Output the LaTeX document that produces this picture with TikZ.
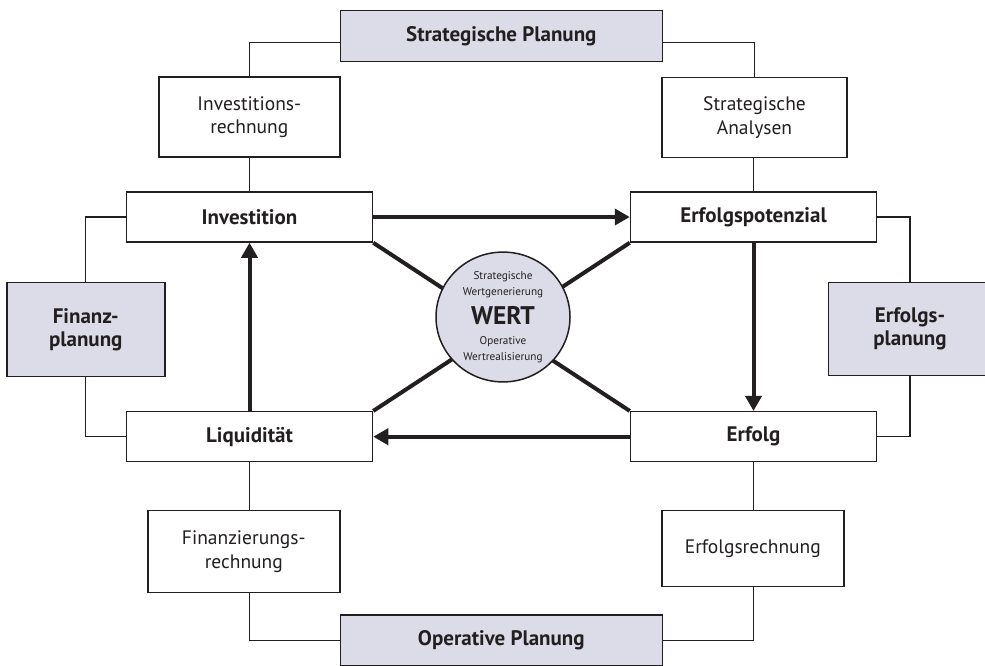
\documentclass[tikz,border=0pt]{standalone}
\usepackage{fontspec}
\setmainfont{PT Sans}
\usetikzlibrary{arrows.meta,shapes.geometric}
\definecolor{planfill}{RGB}{220,220,232}
\definecolor{ink}{RGB}{35,31,32}

\begin{document}
\begin{tikzpicture}[x=1pt, y=-1pt,
  every node/.style={draw=ink, line width=1.5pt, text=ink, align=center, inner sep=0pt,
    font=\fontsize{19.5}{23.5}\selectfont},
  plan/.style={fill=planfill, font=\fontsize{21}{22.5}\selectfont\bfseries},
  cell/.style={minimum width=246pt, minimum height=50pt, font=\fontsize{21}{23}\selectfont\bfseries},
  link/.style={ink, line width=1.3pt},
  flow/.style={ink, line width=4pt, -{Triangle[length=15pt,width=16pt]}}]

  \fill[white] (0,0) rectangle (985,665);
  \useasboundingbox (0,0) rectangle (985,665);

  % planning frame
  \node[plan, minimum width=322pt, minimum height=51pt] (strat) at (501.3,36.2) {Strategische Planung};
  \node[plan, minimum width=322pt, minimum height=51pt] (oper) at (501.3,640.5) {Operative Planung};
  \node[plan, minimum width=158pt, minimum height=94pt] (fin) at (85.8,329.7) {Finanz-\\planung};
  \node[plan, minimum width=163pt, minimum height=93pt] (efp) at (910,329) {Erfolgs-\\planung};

  % calculations
  \node[minimum width=181pt, minimum height=80pt] (invr) at (249.3,117) {Investitions-\\rechnung};
  \node[minimum width=185pt, minimum height=80pt] (sana) at (754.5,117.5) {Strategische\\Analysen};
  \node[minimum width=192pt, minimum height=82pt] (finr) at (243.8,551.5) {Finanzierungs-\\rechnung};
  \node[minimum width=182pt, minimum height=76pt] (erfr) at (752.8,548.5) {Erfolgsrechnung};

  % cycle
  \node[cell] (inv) at (249.5,217) {Investition};
  \node[cell] (pot) at (753.5,217) {Erfolgspotenzial};
  \node[cell] (liq) at (249.5,436.7) {Liquidität};
  \node[cell] (erf) at (753.5,436.7) {Erfolg};

  \draw[link] (invr.north) |- ([yshift=-6pt]strat.west);
  \draw[link] (sana.north) |- ([yshift=-6pt]strat.east);
  \draw[link] (inv.north |- invr.south) -- (inv.north);
  \draw[link] (pot.north |- sana.south) -- (pot.north);
  \draw[link] (inv.west) -| (fin.north);
  \draw[link] (fin.south) |- (liq.west);
  \draw[link] (pot.east) -| (efp.north);
  \draw[link] (efp.south) |- (erf.east);
  \draw[link] (liq.south) -- (liq.south |- finr.north);
  \draw[link] (liq.south |- finr.south) |- (oper.west);
  \draw[link] (erf.south) -- (erf.south |- erfr.north);
  \draw[link] (erf.south |- erfr.south) |- (oper.east);

  \draw[flow] (inv.east) -- (pot.west);
  \draw[flow] (pot.south) -- (erf.north);
  \draw[flow] (erf.west) -- (liq.east);
  \draw[flow] (liq.north) -- (inv.south);

  \draw[ink, line width=4pt] (inv.south east) -- (erf.north west);
  \draw[ink, line width=4pt] (liq.north east) -- (pot.south west);

  \node[ellipse, fill=planfill, minimum width=134pt, minimum height=120pt,
    font=\fontsize{11.2}{16}\selectfont] (wert) at (503,317)
    {Strategische\\Wertgenerierung\\[8pt]{\fontsize{25.5}{25}\selectfont\bfseries WERT}\\[4pt]Operative\\Wertrealisierung};
\end{tikzpicture}
\end{document}
